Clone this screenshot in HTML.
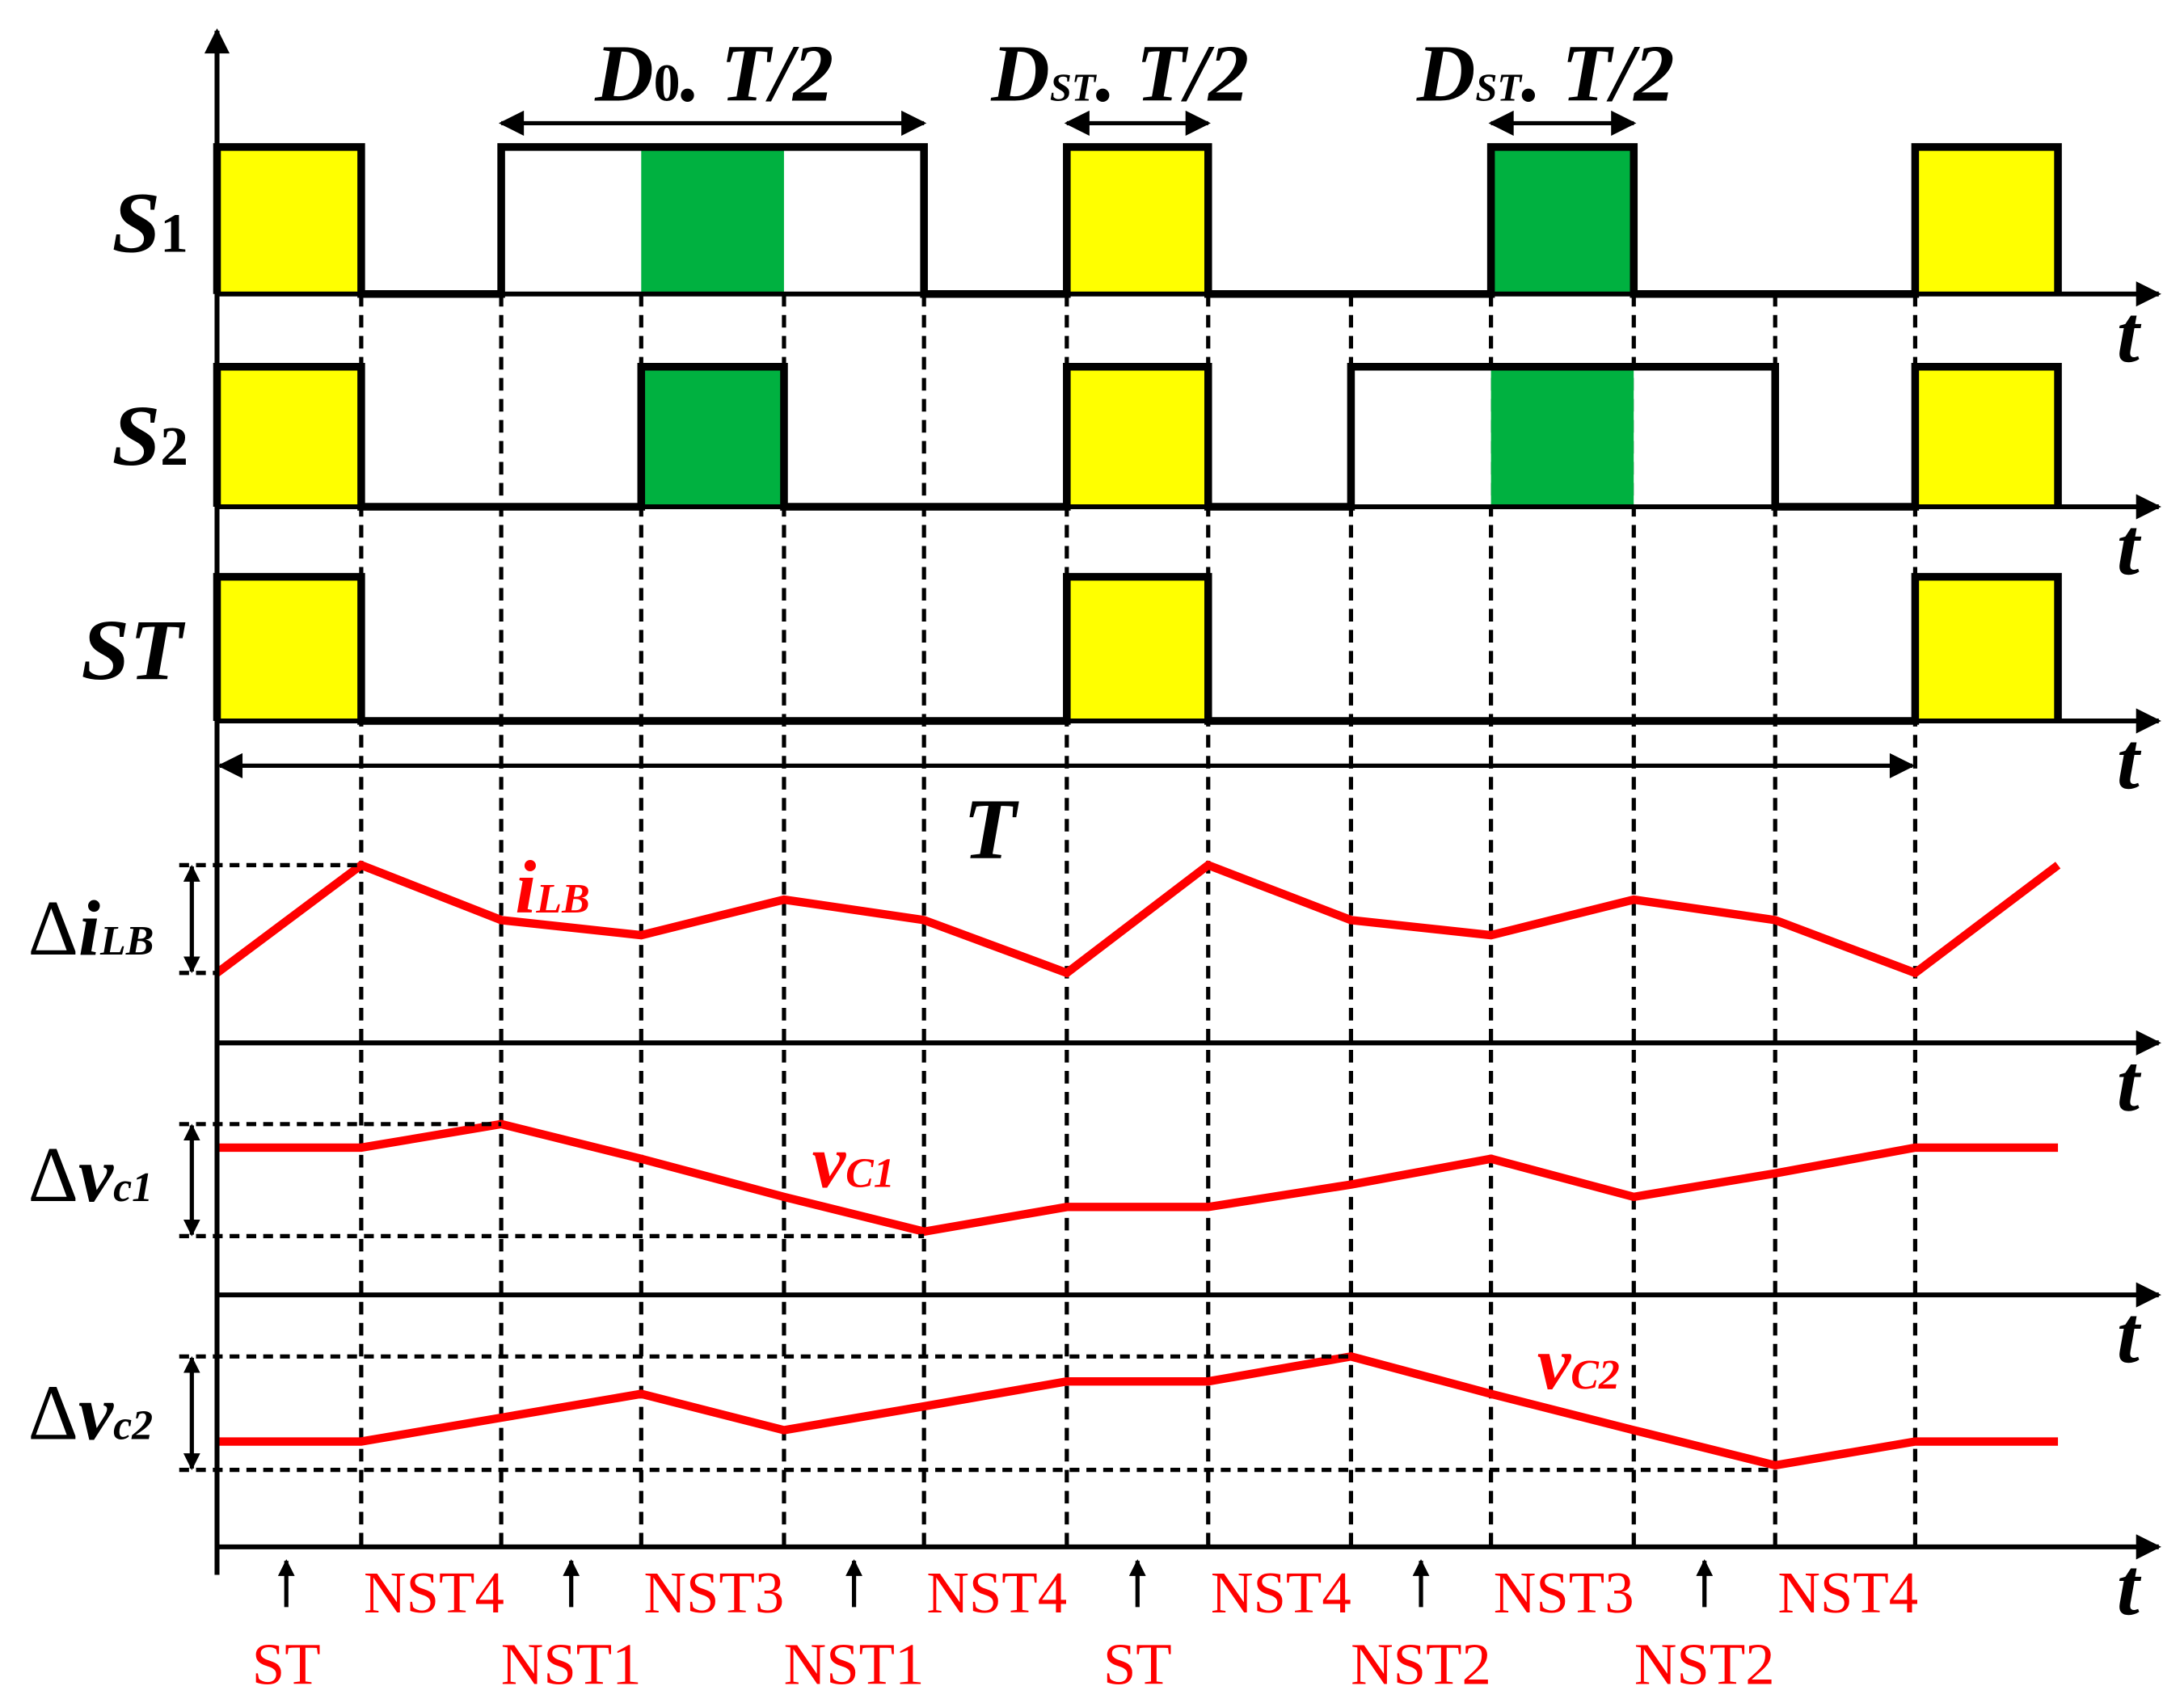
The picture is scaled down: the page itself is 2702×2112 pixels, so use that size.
<!DOCTYPE html>
<html><head><meta charset="utf-8"><style>
html,body{margin:0;padding:0;background:#fff}
svg{display:block}
.lb{font-family:"Liberation Serif",serif;font-weight:bold;font-style:italic;fill:#000}
.rd{font-family:"Liberation Serif",serif;fill:#f00}
</style></head><body>
<svg id="c" width="2702" height="2112" viewBox="0 0 1560 1219.4" xmlns="http://www.w3.org/2000/svg">
<defs>
<marker id="ah2" viewBox="0 0 10 10" refX="9" refY="5" markerWidth="36" markerHeight="18" markerUnits="userSpaceOnUse" orient="auto-start-reverse"><path d="M0,0L10,5L0,10z" fill="#000"/></marker>
<marker id="ah3" viewBox="0 0 10 10" refX="9" refY="5" markerWidth="12" markerHeight="12" markerUnits="userSpaceOnUse" orient="auto-start-reverse"><path d="M0,0L10,5L0,10z" fill="#000"/></marker>
</defs>
<g id="g"></g>
<text class="lb" x="80" y="180" font-size="62">S<tspan font-size="40" font-style="normal">1</tspan></text>
<text class="lb" x="80" y="332" font-size="62">S<tspan font-size="40" font-style="normal">2</tspan></text>
<text class="lb" x="58" y="485" font-size="62">ST</text>
<text class="lb" x="425" y="72" font-size="58">D<tspan font-size="38" font-style="normal">0</tspan>. T/2</text>
<text class="lb" x="708" y="72" font-size="58">D<tspan font-size="28">ST</tspan>. T/2</text>
<text class="lb" x="1012" y="72" font-size="58">D<tspan font-size="28">ST</tspan>. T/2</text>
<text class="lb" x="688" y="613" font-size="62">T</text>
<text class="lb" x="20" y="682" font-size="56"><tspan font-style="normal" font-weight="normal">Δ</tspan>i<tspan font-size="30">LB</tspan></text>
<text class="lb" x="20" y="858" font-size="56"><tspan font-style="normal" font-weight="normal">Δ</tspan>v<tspan font-size="30">c1</tspan></text>
<text class="lb" x="20" y="1028" font-size="56"><tspan font-style="normal" font-weight="normal">Δ</tspan>v<tspan font-size="30">c2</tspan></text>
<text class="lb" x="368" y="652" font-size="54" style="fill:#f00">i<tspan font-size="30">LB</tspan></text>
<text class="lb" x="580" y="848" font-size="54" style="fill:#f00">v<tspan font-size="30">C1</tspan></text>
<text class="lb" x="1098" y="992" font-size="54" style="fill:#f00">v<tspan font-size="30">C2</tspan></text>
</svg>
<script>
const gridX=[155,258,358,458,560,660,762,863,965,1065,1167,1268,1368,1470];
const s1=[1,0,1,1,1,0,1,0,0,1,0,0,1];
const s2=[1,0,0,1,0,0,1,0,1,1,1,0,1];
const stv=[1,0,0,0,0,0,1,0,0,0,0,0,1];
const s1Green=[3,9];const s2Green=[3,9];
const ilb=[0,1,0.49,0.35,0.68,0.49,0,1,0.49,0.35,0.68,0.49,0,1];
const vc1=[0.79,0.79,1,0.69,0.35,0.04,0.26,0.26,0.46,0.69,0.35,0.56,0.79,0.79];
const vc2=[0.25,0.25,0.46,0.67,0.35,0.56,0.78,0.78,1,0.67,0.35,0.04,0.25,0.25];
const bottomTop=["NST4","NST3","NST4","NST4","NST3","NST4"];
const bottomBot=["ST","NST1","NST1","ST","NST2","NST2"];
const NS="http://www.w3.org/2000/svg";const g=document.getElementById('g');
function el(t,a,name){const e=document.createElementNS(NS,t);for(const k in a)e.setAttribute(k,a[k]);


g.appendChild(e);return e;}
for(let i=1;i<gridX.length-1;i++){el('line',{x1:gridX[i],y1:210,x2:gridX[i],y2:1105,stroke:'#000','stroke-width':3,'stroke-dasharray':'9,6'},'grid-line');}
function row(vals,green,yH,yL,name){
 const n=vals.length;
 for(let i=0;i<n;i++){if(!vals[i])continue;
  let fill;
  if(green.includes(i))fill='#00b140';
  else{const iso=!(i>0&&vals[i-1])&&!(i<n-1&&vals[i+1]);fill=iso?'#ff0':'#fff';}
  el('rect',{x:gridX[i],y:yH,width:gridX[i+1]-gridX[i],height:yL-yH,fill:fill},name+'-fill');}
 let d='M'+gridX[0]+','+yL+' L'+gridX[0]+','+(vals[0]?yH:yL);
 for(let i=0;i<n;i++){const y=vals[i]?yH:yL;if(i>0){const py=vals[i-1]?yH:yL;if(py!=y)d+=' L'+gridX[i]+','+y;}d+=' L'+gridX[i+1]+','+y;}
 d+=' L'+gridX[n]+','+yL;
 el('path',{d:d,fill:'none',stroke:'#000','stroke-width':5.5,'stroke-linejoin':'miter'},name+'-waveform');}
row(s1,s1Green,105,210,'s1');row(s2,s2Green,262,362,'s2');row(stv,[],412,515,'st');
function analog(vals,yTop,yBot,name){const pts=vals.map((v,i)=>gridX[i]+','+(yBot-v*(yBot-yTop))).join(' ');
 el('polyline',{points:pts,fill:'none',stroke:'#f00','stroke-width':6,'stroke-linejoin':'miter'},name+'-line');}
analog(ilb,618,695,'ilb');analog(vc1,803,883,'vc1');analog(vc2,969,1050,'vc2');
function href(y,x2,n){el('line',{x1:128,y1:y,x2:x2,y2:y,stroke:'#000','stroke-width':3,'stroke-dasharray':'7,5'},n);}
function maxX(vals,f){let b=0;vals.forEach((v,i)=>{if(f(v,vals[b]))b=i;});return gridX[b];}
href(618,maxX(ilb,(a,b)=>a>b),'ilb-max-ref');href(695,155,'ilb-min-ref');
href(803,maxX(vc1,(a,b)=>a>b),'vc1-max-ref');href(883,maxX(vc1,(a,b)=>a<b),'vc1-min-ref');
href(969,maxX(vc2,(a,b)=>a>b),'vc2-max-ref');href(1050,maxX(vc2,(a,b)=>a<b),'vc2-min-ref');
[[618,695,'ilb'],[803,883,'vc1'],[969,1050,'vc2']].forEach(a=>el('line',{x1:137,y1:a[0]+1,x2:137,y2:a[1]-1,stroke:'#000','stroke-width':3,'marker-start':'url(#ah3)','marker-end':'url(#ah3)'},a[2]+'-ripple-arrow'));
el('line',{x1:155,y1:1125,x2:155,y2:22,stroke:'#000','stroke-width':3.5,'marker-end':'url(#ah2)'},'y-axis');
[210,362,515,745,925,1105].forEach((y,k)=>{el('line',{x1:155,y1:y,x2:1542,y2:y,stroke:'#000','stroke-width':3.5,'marker-end':'url(#ah2)'},'time-axis');
 const t=el('text',{x:1512,y:y+48,'font-size':58,class:'lb'},'t-axis-label');t.textContent='t';});
el('line',{x1:358,y1:88,x2:660,y2:88,stroke:'#000','stroke-width':3,'marker-start':'url(#ah2)','marker-end':'url(#ah2)'},'d0-span-arrow');
el('line',{x1:762,y1:88,x2:863,y2:88,stroke:'#000','stroke-width':3,'marker-start':'url(#ah2)','marker-end':'url(#ah2)'},'dst-span-arrow');
el('line',{x1:1065,y1:88,x2:1167,y2:88,stroke:'#000','stroke-width':3,'marker-start':'url(#ah2)','marker-end':'url(#ah2)'},'dst-span-arrow');
el('line',{x1:157,y1:547,x2:1366,y2:547,stroke:'#000','stroke-width':3,'marker-start':'url(#ah2)','marker-end':'url(#ah2)'},'period-arrow');
bottomTop.forEach((s,k)=>{const x=gridX[1+2*k]+52;const t=el('text',{x:x,y:1152,'font-size':42,'text-anchor':'middle',class:'rd'},'state-label-top');t.textContent=s;});
bottomBot.forEach((s,k)=>{const x=(gridX[2*k]+gridX[2*k+1])/2+(k==0?-2:0);
 el('line',{x1:x,y1:1148,x2:x,y2:1115,stroke:'#000','stroke-width':3,'marker-end':'url(#ah3)'},'state-arrow');
 const t=el('text',{x:x,y:1203,'font-size':42,'text-anchor':'middle',class:'rd'},'state-label-bottom');t.textContent=s;});
</script>
</body></html>
